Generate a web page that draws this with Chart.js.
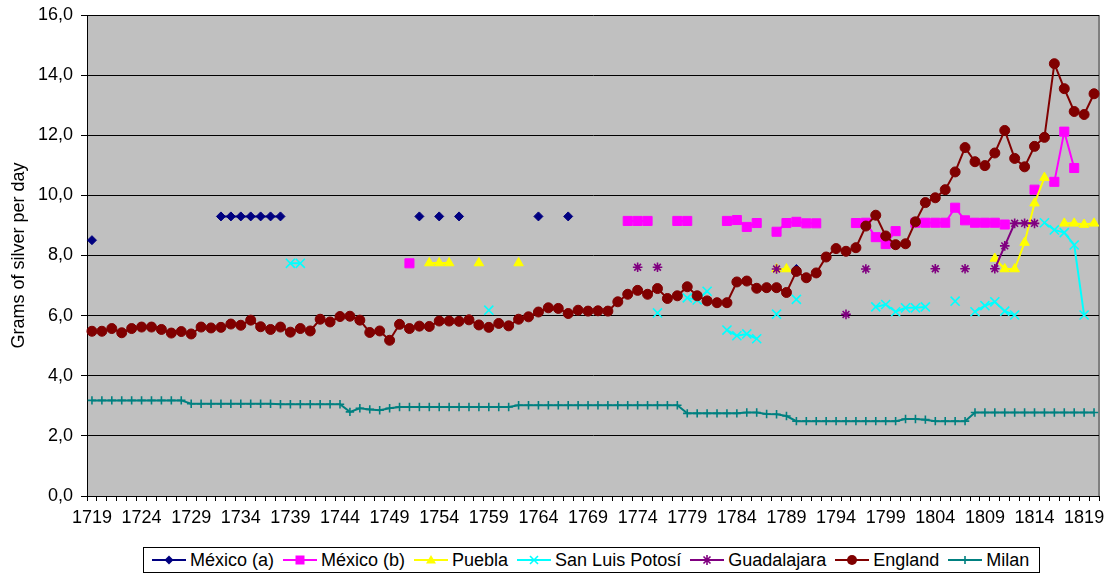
<!DOCTYPE html>
<html><head><meta charset="utf-8">
<script src="https://cdn.jsdelivr.net/npm/chart.js@4.4.0/dist/chart.umd.min.js"></script>
<style>
html,body{margin:0;padding:0;background:#fff;}
#wrap{position:relative;width:1113px;height:574px;overflow:hidden;background:#fff;}
#c{position:absolute;left:0;top:0;}
#legend{position:absolute;left:143px;top:547px;width:897px;height:26px;border:1px solid #000;box-sizing:border-box;display:flex;align-items:center;padding-left:8px;font-family:"Liberation Sans",Arial,sans-serif;font-size:18px;color:#000;white-space:nowrap;background:#fff;}
.item{display:flex;align-items:center;margin-right:9px;}
.item svg{margin-right:4px;display:block;}
</style></head>
<body>
<div id="wrap">
<canvas id="c" width="1113" height="574"></canvas>
<div id="legend"></div>
</div>
<script>
// ---- categories ----
const years = [];
for (let y = 1719; y <= 1820; y++) years.push(String(y));

// ---- series values ----
const englandValues = [
 5.48,5.48,5.57,5.43,5.57,5.62,5.62,5.54,5.42,5.47,
 5.39,5.62,5.59,5.61,5.72,5.68,5.85,5.63,5.54,5.62,
 5.45,5.57,5.49,5.88,5.79,5.97,5.98,5.85,5.44,5.49,
 5.18,5.71,5.57,5.65,5.64,5.82,5.82,5.81,5.86,5.69,
 5.61,5.74,5.66,5.88,5.96,6.12,6.26,6.24,6.07,6.18,
 6.15,6.16,6.15,6.46,6.71,6.84,6.71,6.90,6.57,6.66,
 6.96,6.66,6.49,6.43,6.43,7.12,7.15,6.91,6.93,6.93,
 6.77,7.47,7.26,7.42,7.95,8.23,8.14,8.26,8.98,9.34,
 8.65,8.36,8.39,9.12,9.76,9.92,10.19,10.78,11.59,11.12,
 10.99,11.41,12.16,11.23,10.95,11.63,11.93,14.38,13.55,12.79,
 12.69,13.38
];
const milanValues = [
 3.18,3.18,3.18,3.18,3.18,3.18,3.18,3.18,3.18,3.18,
 3.07,3.07,3.07,3.07,3.07,3.07,3.07,3.07,3.07,3.05,
 3.05,3.05,3.05,3.05,3.05,3.05,2.80,2.92,2.88,2.85,
 2.92,2.96,2.96,2.96,2.96,2.96,2.96,2.96,2.96,2.96,
 2.96,2.96,2.96,3.02,3.02,3.02,3.02,3.02,3.02,3.02,
 3.02,3.02,3.02,3.02,3.02,3.02,3.02,3.02,3.02,3.02,
 2.75,2.75,2.75,2.75,2.75,2.75,2.78,2.78,2.73,2.72,
 2.66,2.49,2.49,2.49,2.49,2.49,2.49,2.49,2.49,2.49,
 2.49,2.49,2.56,2.56,2.54,2.49,2.49,2.49,2.49,2.78,
 2.78,2.78,2.78,2.78,2.78,2.78,2.78,2.78,2.78,2.78,
 2.78,2.78
];
const mexicoAYears  = [1719,1732,1733,1734,1735,1736,1737,1738,1752,1754,1756,1764,1767,1790];
const mexicoAValues = [8.51,9.30,9.30,9.30,9.30,9.30,9.30,9.30,9.30,9.30,9.30,9.30,9.30,7.55];

const mexicoBYears  = [1751,1773,1774,1775,1778,1779,1783,1784,1785,1786,1788,1789,1790,1791,1792,
                       1796,1797,1798,1799,1800,1802,1803,1804,1805,1806,1807,1808,1809,1810,1811,
                       1814,1816,1817,1818];
const mexicoBValues = [7.74,9.15,9.15,9.15,9.15,9.15,9.15,9.18,8.95,9.08,8.79,9.08,9.12,9.07,9.07,
                       9.08,9.09,8.61,8.38,8.81,9.09,9.09,9.09,9.09,9.59,9.17,9.09,9.09,9.09,9.03,
                       10.19,10.45,12.12,10.91];

const pueblaYears  = [1753,1754,1755,1758,1762,1788,1789,1810,1811,1812,1813,1814,1815,1817,1818,1819,1820];
const pueblaValues = [7.75,7.75,7.75,7.75,7.75,7.55,7.55,7.90,7.55,7.55,8.43,9.74,10.59,9.07,9.07,9.03,9.07];

const slpYears  = [1739,1740,1759,1776,1779,1780,1781,1783,1784,1785,1786,1788,1790,
                   1798,1799,1800,1801,1802,1803,1806,1808,1809,1810,1811,1812,1815,1816,1817,1818,1819];
const slpValues = [7.74,7.74,6.18,6.09,6.59,6.52,6.81,5.52,5.33,5.39,5.23,6.05,6.54,
                   6.29,6.37,6.13,6.26,6.26,6.29,6.48,6.13,6.33,6.46,6.15,6.02,9.09,8.85,8.76,8.35,6.02];

const guadYears  = [1774,1776,1788,1795,1797,1804,1807,1810,1811,1812,1813,1814];
const guadValues = [7.61,7.61,7.55,6.04,7.55,7.56,7.56,7.56,8.32,9.07,9.07,9.07];

// ---- y tick labels ----
const yTicks = [0,2,4,6,8,10,12,14,16];

function toSeries(ys, vs) {
  const arr = years.map(() => null);
  ys.forEach((y, i) => { arr[y - 1719] = vs[i]; });
  return arr;
}

const FONT = '"Liberation Sans", Arial, sans-serif';

const seriesDefs = [
  {label:'México (a)', data:toSeries(mexicoAYears, mexicoAValues), color:'#000080', style:'rectRot', r:4.5},
  {label:'México (b)', data:toSeries(mexicoBYears, mexicoBValues), color:'#FF00FF', style:'rect', r:6.4},
  {label:'Puebla', data:toSeries(pueblaYears, pueblaValues), color:'#FFFF00', style:'triangle', r:5.5},
  {label:'San Luis Potosí', data:toSeries(slpYears, slpValues), color:'#00FFFF', style:'crossRot', r:6.4},
  {label:'Guadalajara', data:toSeries(guadYears, guadValues), color:'#800080', style:'star', r:4.8},
  {label:'England', data:englandValues, color:'#800000', style:'circle', r:5},
  {label:'Milan', data:milanValues, color:'#008080', style:'cross', r:4.2}
];

const datasets = seriesDefs.map((s, i) => ({
  label: s.label,
  data: s.data,
  borderColor: s.color,
  backgroundColor: s.color,
  borderWidth: 2,
  pointStyle: s.style,
  pointRadius: s.r,
  pointHoverRadius: s.r,
  pointBackgroundColor: s.color,
  pointBorderColor: s.color,
  pointBorderWidth: (s.style === 'crossRot' || s.style === 'star' || s.style === 'cross') ? 1.6 : 1,
  spanGaps: false,
  tension: 0,
  fill: false,
  order: seriesDefs.length - i
}));

const plotBg = {
  id: 'plotBg',
  beforeDraw(chart) {
    const {ctx, chartArea: a} = chart;
    ctx.save();
    ctx.fillStyle = '#C0C0C0';
    ctx.fillRect(a.left, a.top, a.right - a.left, a.bottom - a.top);
    ctx.strokeStyle = '#808080';
    ctx.lineWidth = 2;
    ctx.beginPath();
    ctx.moveTo(a.right, a.top);
    ctx.lineTo(a.right, a.bottom);
    ctx.stroke();
    ctx.restore();
  }
};

new Chart(document.getElementById('c'), {
  type: 'line',
  data: { labels: years, datasets },
  options: {
    responsive: false,
    animation: false,
    devicePixelRatio: 1,
    layout: { padding: { left: 0, right: 14, top: 15, bottom: 0 } },
    plugins: { legend: { display: false }, tooltip: { enabled: false } },
    scales: {
      x: {
        type: 'category',
        offset: true,
        grid: { offset: true, drawOnChartArea: false, drawTicks: true, tickLength: 5, color: '#000', lineWidth: 1 },
        border: { display: true, color: '#000', width: 1 },
        ticks: {
          autoSkip: false, maxRotation: 0, minRotation: 0, padding: 6, color: '#000',
          font: { family: FONT, size: 18 },
          callback: (v, i) => (i % 5 === 0 ? years[i] : '')
        },
        afterFit: s => { s.height = 78; }
      },
      y: {
        min: 0, max: 16,
        afterBuildTicks: s => { s.ticks = yTicks.map(v => ({ value: v })); },
        ticks: {
          padding: 8, color: '#000', font: { family: FONT, size: 18 },
          callback: v => Number(v).toFixed(1).replace('.', ',')
        },
        grid: { color: '#000', lineWidth: 1, tickLength: 6, drawTicks: true },
        border: { display: true, color: '#000', width: 1 },
        title: { display: true, text: 'Grams of silver per day', color: '#000', font: { family: FONT, size: 18 }, padding: { top: 8, bottom: 0 } },
        afterFit: s => { s.width = 87; s.paddingTop = 0; s.paddingBottom = 0; }
      }
    }
  },
  plugins: [plotBg]
});

// ---- HTML legend ----
const icons = {
  rectRot: c => `<polygon points="17,2.5 21.5,7 17,11.5 12.5,7" fill="${c}"/>`,
  rect: c => `<rect x="12.5" y="2.5" width="9" height="9" fill="${c}"/>`,
  triangle: c => `<polygon points="17,2 22,10.5 12,10.5" fill="${c}"/>`,
  crossRot: c => `<path d="M13,3 L21,11 M21,3 L13,11" stroke="${c}" stroke-width="1.6" fill="none"/>`,
  star: c => `<path d="M13.5,3.5 L20.5,10.5 M20.5,3.5 L13.5,10.5 M17,2 L17,12" stroke="${c}" stroke-width="1.6" fill="none"/>`,
  circle: c => `<circle cx="17" cy="7" r="5" fill="${c}"/>`,
  cross: c => `<path d="M17,3 L17,11 M13,7 L21,7" stroke="${c}" stroke-width="1.6" fill="none"/>`
};
const lg = document.getElementById('legend');
seriesDefs.forEach(s => {
  const d = document.createElement('div');
  d.className = 'item';
  d.innerHTML = `<svg width="34" height="14" viewBox="0 0 34 14"><line x1="0" y1="7" x2="34" y2="7" stroke="${s.color}" stroke-width="2"/>${icons[s.style](s.color)}</svg><span>${s.label}</span>`;
  lg.appendChild(d);
});
</script>
</body></html>
